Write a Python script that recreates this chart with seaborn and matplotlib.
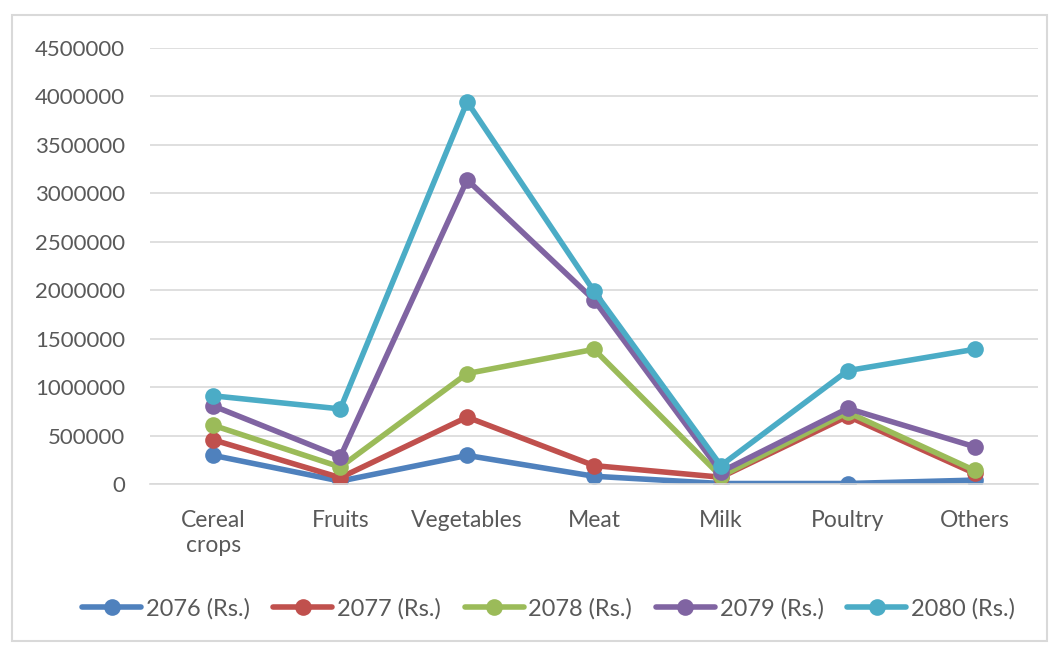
import numpy as np
import matplotlib
matplotlib.use('Agg')
import matplotlib.pyplot as plt
import pandas as pd
import seaborn as sns

# chart data
categories = ['Cereal\ncrops', 'Fruits', 'Vegetables', 'Meat', 'Milk', 'Poultry', 'Others']
years = ['2076 (Rs.)', '2077 (Rs.)', '2078 (Rs.)', '2079 (Rs.)', '2080 (Rs.)']
v2076 = [295000, 30000, 295000, 80000, 5000, 5000, 40000]
v2077 = [455000, 65000, 690000, 190000, 70000, 700000, 110000]
v2078 = [605000, 175000, 1140000, 1390000, 80000, 740000, 140000]
v2079 = [805000, 280000, 3140000, 1900000, 125000, 780000, 385000]
v2080 = [910000, 775000, 3945000, 1990000, 190000, 1170000, 1390000]
colors = ['#4F81BD', '#C0504D', '#9BBB59', '#8064A2', '#4BACC6']

rows = []
for yr, vals in zip(years, [v2076, v2077, v2078, v2079, v2080]):
    for c, v in zip(categories, vals):
        rows.append({'Category': c, 'Value': v, 'Year': yr})
df = pd.DataFrame(rows)

sns.set_style('white')
plt.rcParams['font.family'] = ['Lato', 'DejaVu Sans']

fig = plt.figure(figsize=(10.59, 6.45), dpi=100)
ax = fig.add_axes([150 / 1059, 1 - 484 / 645, 888 / 1059, 436 / 645])

sns.lineplot(data=df, x='Category', y='Value', hue='Year', palette=colors,
             marker='o', markersize=12, markeredgewidth=0, linewidth=4,
             sort=False, ax=ax)

ax.set_xlim(-0.5, len(categories) - 0.5)
ax.set_ylim(0, 4500000)
ax.set_yticks(np.arange(0, 4500001, 500000))
ax.set_yticklabels([str(int(t)) for t in np.arange(0, 4500001, 500000)])
ax.grid(axis='y', color='#D9D9D9', linewidth=1.2)
ax.set_axisbelow(True)
for s in ['left', 'right', 'top']:
    ax.spines[s].set_visible(False)
ax.spines['bottom'].set_color('#D9D9D9')
ax.spines['bottom'].set_linewidth(1.2)
ax.tick_params(axis='y', length=0, pad=18, labelsize=16, labelcolor='#595959')
ax.tick_params(axis='x', length=0, pad=19, labelsize=16.5, labelcolor='#595959')
ax.set_xlabel('')
ax.set_ylabel('')

ax.legend(loc='center', bbox_to_anchor=(0.518, 1 - 609 / 645), bbox_transform=fig.transFigure,
          ncol=5, frameon=False, fontsize=17, handlelength=2.5, columnspacing=1.0,
          handletextpad=0.2, labelcolor='#595959')

# chart border
fig.patches.append(plt.Rectangle((12 / 1059, 4 / 645), 1035 / 1059, 626 / 645,
                                 transform=fig.transFigure, fill=False,
                                 edgecolor='#D9D9D9', linewidth=1.5))

fig.savefig('out.png', dpi=100)
